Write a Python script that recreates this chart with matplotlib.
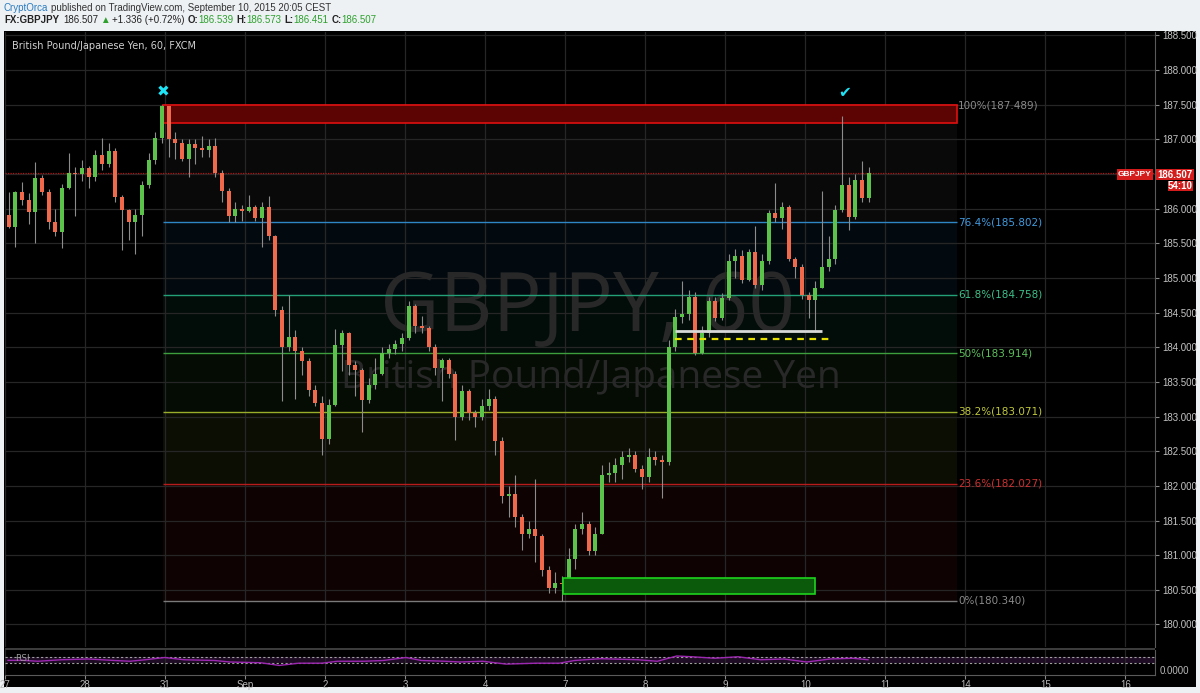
import matplotlib.pyplot as plt
from matplotlib.patches import Rectangle
import numpy as np

W_PX, H_PX = 1200, 693

# 2-hour OHLC bars, 27 Aug - 10 Sep 2015
first_open = 185.91
closes = [
    185.74, 186.24, 186.13, 185.95, 186.44, 186.24, 185.81, 185.66, 186.30, 186.51,
    186.50, 186.58, 186.45, 186.77, 186.65, 186.83, 186.17, 185.98, 185.80, 185.91,
    186.34, 186.70, 187.02, 187.48, 187.00, 186.95, 186.72, 186.93, 186.88, 186.85,
    186.90, 186.51, 186.25, 185.90, 186.00, 185.97, 186.02, 185.86, 186.02, 185.60,
    184.54, 184.01, 184.15, 183.94, 183.80, 183.38, 183.19, 182.67, 183.17, 184.03,
    184.20, 183.75, 183.67, 183.24, 183.46, 183.62, 183.91, 183.98, 184.05, 184.13,
    184.59, 184.30, 184.28, 184.01, 183.70, 183.82, 183.62, 183.00, 183.37, 183.05,
    183.00, 183.15, 183.26, 182.65, 181.85, 181.88, 181.55, 181.31, 181.38, 181.27,
    180.78, 180.53, 180.60, 180.58, 180.95, 181.38, 181.45, 181.06, 181.31, 182.16,
    182.18, 182.30, 182.41, 182.45, 182.24, 182.13, 182.42, 182.38, 182.34, 184.01,
    184.44, 184.48, 184.72, 183.92, 184.20, 184.66, 184.42, 184.71, 185.24, 185.31,
    184.97, 185.38, 184.90, 185.24, 185.93, 185.86, 186.03, 185.28, 185.16, 184.75,
    184.68, 184.85, 185.16, 185.28, 185.98, 186.34, 185.88, 186.41, 186.16, 186.507,
]
highs = [
    186.24, 186.26, 186.38, 186.22, 186.67, 186.48, 186.28, 186.00, 186.35, 186.80,
    186.60, 186.70, 186.62, 186.85, 187.02, 186.95, 186.88, 186.20, 186.00, 186.00,
    186.40, 186.80, 187.10, 187.49, 187.48, 187.10, 187.00, 187.00, 187.00, 187.05,
    187.00, 187.02, 186.55, 186.30, 186.10, 186.05, 186.20, 186.05, 186.10, 186.18,
    185.62, 184.60, 184.75, 184.25, 184.00, 183.85, 183.45, 183.30, 183.25, 184.27,
    184.25, 184.22, 183.80, 183.70, 183.55, 183.85, 184.00, 184.05, 184.10, 184.20,
    184.67, 184.62, 184.45, 184.30, 184.05, 183.85, 183.85, 183.65, 183.45, 183.40,
    183.10, 183.25, 183.40, 183.30, 182.70, 182.00, 182.15, 181.60, 181.50, 182.10,
    181.30, 180.85, 180.75, 180.70, 181.10, 181.45, 181.62, 181.50, 181.40, 182.30,
    182.35, 182.40, 182.50, 182.55, 182.50, 182.30, 182.55, 182.50, 182.45, 184.10,
    184.55, 184.95, 184.82, 184.80, 184.30, 184.72, 184.72, 184.78, 185.35, 185.42,
    185.40, 185.42, 185.75, 185.35, 185.98, 186.37, 186.10, 186.05, 185.30, 185.20,
    184.80, 184.95, 186.25, 185.60, 186.05, 187.33, 186.45, 186.50, 186.68, 186.60,
]
lows = [
    185.72, 185.45, 186.05, 185.78, 185.50, 186.20, 185.70, 185.60, 185.43, 186.28,
    185.90, 186.40, 186.30, 186.40, 186.55, 186.60, 186.10, 185.40, 185.55, 185.35,
    185.60, 186.30, 186.65, 186.95, 186.75, 186.72, 186.68, 186.45, 186.65, 186.75,
    186.75, 186.45, 186.10, 185.80, 185.80, 185.82, 185.95, 185.82, 185.45, 185.55,
    184.45, 183.22, 183.95, 183.25, 183.60, 183.30, 183.15, 182.45, 182.60, 183.15,
    183.65, 183.60, 183.30, 182.78, 183.20, 183.40, 183.60, 183.85, 183.90, 183.95,
    184.10, 184.20, 184.20, 183.95, 183.60, 183.22, 183.55, 182.66, 182.95, 182.95,
    182.85, 182.95, 183.10, 182.45, 181.75, 181.55, 181.40, 181.07, 181.25, 180.90,
    180.70, 180.45, 180.45, 180.34, 180.55, 180.80, 181.30, 181.00, 181.00, 181.30,
    182.05, 182.05, 182.10, 182.35, 182.20, 181.95, 182.05, 182.30, 181.82, 182.30,
    183.95, 184.35, 184.40, 183.89, 183.90, 184.15, 184.38, 184.40, 184.68, 185.00,
    184.93, 184.95, 184.85, 184.82, 185.20, 185.80, 185.70, 185.25, 185.00, 184.70,
    184.42, 184.22, 184.85, 185.10, 185.20, 185.95, 185.69, 185.85, 186.10, 186.10,
]

day_labels = ['27', '28', '31', 'Sep', '2', '3', '4', '7', '8', '9', '10', '11', '14', '15', '16']
price_ticks = [180.0, 180.5, 181.0, 181.5, 182.0, 182.5, 183.0, 183.5, 184.0,
               184.5, 185.0, 185.5, 186.0, 186.5, 187.0, 187.5, 188.0, 188.5]

fib_pct = ['100%', '76.4%', '61.8%', '50%', '38.2%', '23.6%', '0%']
fib_prices = [187.489, 185.802, 184.758, 183.914, 183.071, 182.027, 180.340]
fib_line_colors = ['#7a7a7a', '#2e87c4', '#24a078', '#3c9e3c', '#9aad2b', '#b71c1c', '#7a7a7a']
fib_text_colors = ['#8a8a8a', '#3f9be0', '#3cc08a', '#5cc05c', '#c0c83a', '#d03030', '#8a8a8a']

# RSI pane (squashed scale as shown), positions in bar units
rsi_pos = [-0.1, 2.1, 4.4, 7.9, 11.9, 15.9, 18.2, 20.5, 23.4, 26.3, 30.9, 33.2, 37.8, 40.6,
           43.5, 47.0, 49.3, 53.3, 56.2, 59.6, 61.9, 65.4, 67.7, 71.1, 74.6, 79.2, 82.6,
           84.9, 88.8, 94.4, 97.3, 100.2, 102.5, 105.9, 109.4, 112.8, 116.3, 119.7, 123.2,
           126.6, 128.9]
rsi_val = [51, 51, 45, 55, 60, 50, 45, 55, 70, 55, 50, 40, 35, 17, 32, 32, 45, 45, 50, 70,
           50, 45, 40, 45, 26, 32, 32, 50, 62, 55, 45, 80, 75, 65, 75, 55, 60, 40, 60, 65, 55]

last_price = 186.507
fib_x0, fib_x1 = 23.15, 142.2
green_box = (83.15, 120.9, 180.44, 180.67)
white_line = (99.9, 122.0, 184.23)
yellow_line = (99.9, 123.0, 184.12)

BG = '#eef1f4'
GRID = '#262626'
TXT = '#c4c4c4'
UP, DOWN, WICK = '#5bc24a', '#f0694a', '#8c8c8c'
UI_FONT = 'Liberation Sans'


def fx(px):
    return px / W_PX


def fy(py):
    return 1 - py / H_PX


def draw_runs(fig, x_px, y_px, runs, size):
    renderer = fig.canvas.get_renderer()
    x = x_px
    for text, color, weight, gap in runs:
        t = fig.text(fx(x), fy(y_px), text, color=color, fontsize=size, family=UI_FONT,
                     fontweight=weight, va='center', ha='left')
        x += t.get_window_extent(renderer=renderer).width + gap


def label_box(fig, x0, y0, x1, y1, text, size, color='#d41c1c'):
    fig.patches.append(Rectangle((fx(x0), fy(y1)), fx(x1 - x0), (y1 - y0) / H_PX,
                                 transform=fig.transFigure, facecolor=color,
                                 edgecolor='none', zorder=5))
    fig.text(fx((x0 + x1) / 2), fy((y0 + y1) / 2), text, color='white', fontsize=size,
             family=UI_FONT, fontweight='bold', ha='center', va='center', zorder=6)


plt.rcParams['font.family'] = ['DejaVu Sans']
fig = plt.figure(figsize=(W_PX / 100, H_PX / 100), dpi=100, facecolor=BG)
fig.patches.append(Rectangle((fx(4), fy(687)), fx(1196 - 4), (687 - 31) / H_PX,
                             transform=fig.transFigure, facecolor='black',
                             edgecolor='none', zorder=-5))

ax = fig.add_axes([fx(5), fy(647), fx(1150), (647 - 32) / H_PX])
ax.set_facecolor('black')
xlim = (-0.55, 171.95)
ax.set_xlim(*xlim)
ax.set_ylim(179.675, 188.548)

day_pos = [12 * k - 0.5 for k in range(len(day_labels))]
for p in price_ticks:
    ax.axhline(p, color=GRID, lw=0.9, zorder=1)
for d in day_pos:
    ax.axvline(d, color=GRID, lw=0.9, zorder=1)

# fibonacci zones and levels
for i in range(len(fib_prices) - 1):
    ax.fill_between([fib_x0, fib_x1], fib_prices[i + 1], fib_prices[i],
                    color=fib_line_colors[i], alpha=0.08, lw=0, zorder=0.5)
for pct, p, lc, tc in zip(fib_pct, fib_prices, fib_line_colors, fib_text_colors):
    ax.hlines(p, fib_x0, fib_x1, color=lc, lw=1, zorder=2)
    ax.text(fib_x1 + 0.2, p, f'{pct}({p:.3f})', color=tc, fontsize=7.5,
            ha='left', va='center', zorder=3)

# watermark
ax.text(86.8, 184.54, 'GBPJPY, 60', color='#282828', fontsize=59, family='Open Sans',
        ha='center', va='center', zorder=1.5)
ax.text(87.3, 183.55, 'British Pound/Japanese Yen', color='#282828', fontsize=28,
        family='Open Sans', ha='center', va='center', zorder=1.5)

# boxes and drawn levels
ax.add_patch(Rectangle((fib_x0, 187.236), fib_x1 - fib_x0, fib_prices[0] - 187.236,
                       facecolor='#5c0303', edgecolor='#e01010', lw=1.2, zorder=2.5))
gx0, gx1, gy0, gy1 = green_box
ax.add_patch(Rectangle((gx0, gy0), gx1 - gx0, gy1 - gy0, facecolor='#0b5a0b',
                       edgecolor='#1ed41e', lw=1.2, zorder=4.5))
ax.hlines(white_line[2], white_line[0], white_line[1], color='#d8d8d8', lw=2, zorder=5)
ax.hlines(yellow_line[2], yellow_line[0], yellow_line[1], color='#e8e000', lw=1.6,
          linestyles=(0, (3, 2.5)), zorder=5)
ax.axhline(last_price, color='#b01515', lw=0.9, ls=(0, (1, 1)), zorder=2.2)

# candles
c = np.array(closes)
o = np.array([first_open] + closes[:-1])
x = np.arange(len(c))
ax.vlines(x, lows, highs, color=WICK, lw=0.8, zorder=3)
body_lo = np.minimum(o, c)
body_h = np.maximum(np.abs(c - o), 0.015)
ax.bar(x, body_h, bottom=body_lo, width=0.62, color=np.where(c >= o, UP, DOWN),
       lw=0, zorder=4)

# markers
ax.text(fib_x0, 187.68, '\u2716', color='#1ee3f5', fontsize=11, ha='center', va='center', zorder=6)
ax.text(125.4, 187.67, '\u2714', color='#1ee3f5', fontsize=11, ha='center', va='center', zorder=6)

ax.text(0.006, 0.977, 'British Pound/Japanese Yen, 60, FXCM', transform=ax.transAxes,
        color='#d0d0d0', fontsize=7, ha='left', va='center', zorder=6)

ax.yaxis.tick_right()
ax.set_yticks(price_ticks)
# the 186.500 label sits under the last-price tag
ax.set_yticklabels(['' if p == 186.5 else f'{p:.3f}' for p in price_ticks],
                   family=UI_FONT)
ax.tick_params(axis='y', colors='#8a8a8a', labelcolor=TXT, labelsize=7, length=3, pad=2)
ax.tick_params(axis='x', bottom=False, labelbottom=False)
for side, sp in ax.spines.items():
    sp.set_visible(side == 'right')
    sp.set_color('#5a5a5a')

# separator between panes
fig.patches.append(Rectangle((fx(5), fy(650)), fx(1150), 2 / H_PX, transform=fig.transFigure,
                             facecolor='#3c3c3c', edgecolor='none', zorder=3))

# RSI pane
rax = fig.add_axes([fx(5), fy(675), fx(1150), (675 - 650) / H_PX])
rax.set_facecolor('black')
rax.set_xlim(*xlim)
rax.set_ylim(-46.7, 120)
for d in day_pos:
    rax.axvline(d, color=GRID, lw=0.9, zorder=1)
rax.axhspan(30, 70, color='#1e0c24', lw=0, zorder=0.5)
rax.axhline(70, color='#a0a0a0', lw=0.8, ls=(0, (2, 2)), zorder=2)
rax.axhline(30, color='#a0a0a0', lw=0.8, ls=(0, (2, 2)), zorder=2)
rax.plot(rsi_pos, rsi_val, color='#9c27b0', lw=1, zorder=3)
rax.text(1.0, 65, 'RSI', color='#9a9a9a', fontsize=6.5, ha='left', va='center', zorder=4)
rax.set_xticks(day_pos)
rax.set_xticklabels(day_labels, family=UI_FONT)
rax.set_yticks([])
rax.tick_params(axis='x', colors='#8a8a8a', labelcolor='#b8b8b8', labelsize=7, length=3, pad=0.5)
for side, sp in rax.spines.items():
    sp.set_color('#5a5a5a')
    sp.set_visible(side in ('right', 'bottom'))
fig.text(fx(1160), fy(671), '0.0000', color='#b8b8b8', fontsize=7, family=UI_FONT,
         ha='left', va='center')

# price tags on the right
label_box(fig, 1117, 169, 1153, 180, 'GBPJPY', 6)
label_box(fig, 1156, 169, 1194, 180, '186.507', 7)
label_box(fig, 1168, 181, 1193, 191, '54:10', 7)

# header
draw_runs(fig, 4, 8, [
    ('CryptOrca', '#2a7bbf', 'normal', 3),
    ('published on TradingView.com, September 10, 2015 20:05 CEST', '#333333', 'normal', 0),
], 7.0)
green = '#2ea02e'
dark = '#222222'
draw_runs(fig, 4, 20, [
    ('FX:GBPJPY', dark, 'bold', 4),
    ('186.507', dark, 'normal', 2),
    ('\u25b2', green, 'normal', 2),
    ('+1.336 (+0.72%)', dark, 'normal', 3),
    ('O:', dark, 'bold', 0), ('186.539', green, 'normal', 3),
    ('H:', dark, 'bold', 0), ('186.573', green, 'normal', 3),
    ('L:', dark, 'bold', 0), ('186.451', green, 'normal', 3),
    ('C:', dark, 'bold', 0), ('186.507', green, 'normal', 0),
], 7.0)

fig.savefig('out.png', dpi=100, facecolor=BG)
